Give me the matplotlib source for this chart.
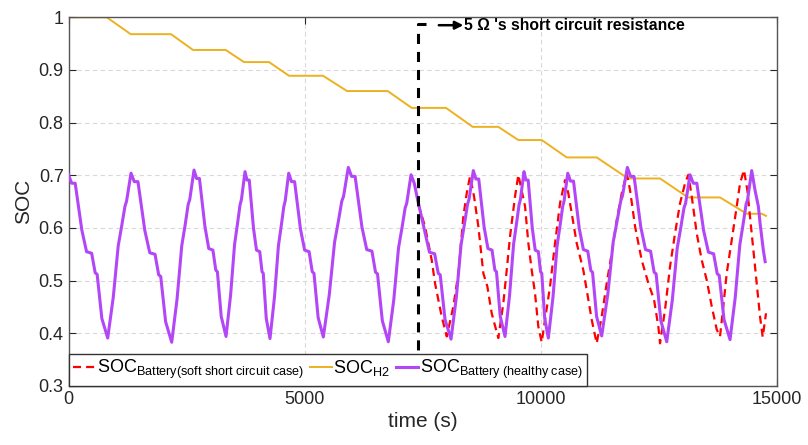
import matplotlib
matplotlib.use("Agg")
import matplotlib.pyplot as plt

plt.rcParams['font.family'] = ['Liberation Sans', 'DejaVu Sans']
plt.rcParams['mathtext.fontset'] = 'custom'
plt.rcParams['mathtext.rm'] = 'Liberation Sans'
plt.rcParams['mathtext.it'] = 'Liberation Sans:italic'
plt.rcParams['mathtext.bf'] = 'Liberation Sans:bold'

# healthy battery SOC
t_healthy = [0, 66, 141, 282, 382, 490, 564, 606, 706, 830,
             948, 1052, 1126, 1195, 1229, 1323,
             1392, 1470, 1616, 1720, 1832, 1909, 1952, 2056, 2185,
             2298, 2397, 2468, 2534, 2567, 2657,
             2711, 2772, 2888, 2969, 3057, 3118, 3152, 3233, 3335,
             3431, 3516, 3576, 3632, 3661, 3737,
             3779, 3827, 3917, 3980, 4049, 4097, 4123, 4187, 4266,
             4361, 4444, 4504, 4559, 4587, 4662,
             4721, 4787, 4911, 4999, 5094, 5160, 5197, 5285, 5395,
             5522, 5633, 5712, 5786, 5823, 5924,
             5992, 6068, 6212, 6314, 6424, 6500, 6542, 6644, 6771,
             6886, 6987, 7060, 7127, 7161, 7252,
             7320, 7396, 7540, 7642, 7752, 7828, 7870, 7972, 8099,
             8212, 8311, 8382, 8448, 8481, 8571,
             8625, 8685, 8799, 8880, 8967, 9027, 9061, 9141, 9242,
             9338, 9423, 9483, 9539, 9568, 9644,
             9685, 9732, 9819, 9881, 9948, 9994, 10020, 10082, 10159,
             10258, 10344, 10406, 10463, 10492, 10570,
             10628, 10692, 10814, 10901, 10994, 11059, 11095, 11181, 11289,
             11419, 11533, 11615, 11691, 11729, 11832,
             11899, 11974, 12116, 12216, 12324, 12399, 12441, 12541, 12666,
             12784, 12888, 12962, 13031, 13065, 13159,
             13227, 13303, 13447, 13549, 13659, 13735, 13777, 13879, 14006,
             14116, 14213, 14281, 14346, 14378, 14465,
             14535, 14606, 14642, 14711, 14750]
soc_healthy = [0.701, 0.685, 0.685, 0.596, 0.555, 0.552, 0.515, 0.512, 0.428, 0.391,
               0.469, 0.566, 0.604, 0.641, 0.651, 0.704,
               0.688, 0.688, 0.595, 0.553, 0.550, 0.511, 0.508, 0.422, 0.383,
               0.465, 0.566, 0.605, 0.645, 0.654, 0.710,
               0.694, 0.694, 0.603, 0.561, 0.558, 0.520, 0.517, 0.432, 0.394,
               0.472, 0.569, 0.607, 0.644, 0.654, 0.707,
               0.691, 0.691, 0.599, 0.558, 0.555, 0.517, 0.514, 0.428, 0.390,
               0.469, 0.566, 0.604, 0.641, 0.651, 0.704,
               0.688, 0.688, 0.598, 0.558, 0.555, 0.517, 0.514, 0.430, 0.393,
               0.474, 0.573, 0.612, 0.651, 0.660, 0.715,
               0.698, 0.698, 0.602, 0.559, 0.556, 0.516, 0.513, 0.424, 0.384,
               0.463, 0.562, 0.600, 0.638, 0.647, 0.701,
               0.685, 0.652, 0.595, 0.554, 0.551, 0.514, 0.511, 0.426, 0.389,
               0.469, 0.568, 0.607, 0.645, 0.655, 0.709,
               0.693, 0.693, 0.602, 0.561, 0.558, 0.520, 0.517, 0.432, 0.394,
               0.472, 0.569, 0.607, 0.644, 0.654, 0.707,
               0.691, 0.691, 0.600, 0.558, 0.555, 0.517, 0.514, 0.429, 0.391,
               0.469, 0.566, 0.604, 0.641, 0.651, 0.704,
               0.689, 0.689, 0.599, 0.559, 0.556, 0.519, 0.516, 0.432, 0.395,
               0.475, 0.574, 0.613, 0.651, 0.661, 0.715,
               0.698, 0.698, 0.602, 0.559, 0.556, 0.516, 0.513, 0.424, 0.384,
               0.463, 0.562, 0.600, 0.638, 0.647, 0.701,
               0.685, 0.685, 0.595, 0.554, 0.551, 0.513, 0.510, 0.426, 0.388,
               0.468, 0.568, 0.606, 0.645, 0.654, 0.709,
               0.672, 0.641, 0.609, 0.558, 0.536]

# battery SOC with soft short circuit (after fault)
t_short = [7400, 7443, 7548, 7690, 7760, 7901, 8008,
           8148, 8254, 8360, 8431, 8501,
           8586, 8677, 8783, 8868, 8960, 9100,
           9206, 9278, 9348, 9454, 9524,
           9666, 9736, 9807, 9877, 9947, 10019,
           10089, 10195, 10301, 10407, 10512,
           10582, 10654, 10760, 10900, 11006, 11077, 11183,
           11289, 11395, 11501, 11607, 11713, 11819,
           11889, 11995, 12136, 12277, 12397, 12488, 12524,
           12630, 12736, 12842, 12948, 13054, 13123,
           13195, 13301, 13407, 13513, 13619, 13725, 13794,
           13864, 13936, 14042, 14148, 14218, 14302,
           14372, 14443, 14514, 14584, 14641, 14698, 14768]
soc_short = [0.645, 0.634, 0.603, 0.539, 0.495, 0.432, 0.394,
             0.451, 0.514, 0.622, 0.666, 0.698,
             0.660, 0.603, 0.514, 0.489, 0.438, 0.391,
             0.457, 0.520, 0.584, 0.660, 0.701,
             0.641, 0.571, 0.520, 0.476, 0.413, 0.383,
             0.426, 0.489, 0.571, 0.647, 0.691,
             0.666, 0.628, 0.571, 0.520, 0.464, 0.426, 0.381,
             0.432, 0.495, 0.552, 0.615, 0.666, 0.704,
             0.672, 0.603, 0.539, 0.495, 0.464, 0.413, 0.381,
             0.445, 0.527, 0.590, 0.647, 0.685, 0.701,
             0.660, 0.590, 0.539, 0.501, 0.451, 0.407, 0.394,
             0.451, 0.514, 0.577, 0.641, 0.685, 0.710,
             0.672, 0.609, 0.546, 0.483, 0.432, 0.393, 0.438]

# hydrogen SOC
t_h2 = [0, 809, 1317, 2170, 2636, 3328, 3716, 4245, 4669, 5389, 5897, 6758,
        7267, 7993, 8558, 9100, 9524, 10019, 10548, 11183, 11846, 12524,
        13117, 13794, 14359, 14677, 14768]
soc_h2 = [1.0, 1.0, 0.968, 0.968, 0.938, 0.938, 0.915, 0.915, 0.889, 0.889,
          0.860, 0.860, 0.828, 0.828, 0.792, 0.792, 0.767, 0.767, 0.734, 0.734,
          0.694, 0.694, 0.658, 0.658, 0.627, 0.627, 0.623]

t_fault = [7400, 7400, 7560]
soc_fault = [0.3, 0.988, 0.988]

fig = plt.figure(figsize=(8.08, 4.45), dpi=100)
ax = fig.add_axes([0.0848, 0.1326, 0.8768, 0.8285])

ax.plot(t_short, soc_short, color='#ff0000', lw=1.6, dashes=(3.6, 2.3),
        label=r'SOC$_{\mathrm{Battery(soft\ short\ circuit\ case)}}$', zorder=3)
ax.plot(t_h2, soc_h2, color='#edb120', lw=1.4,
        label=r'SOC$_{\mathrm{H2}}$', zorder=2)
ax.plot(t_healthy, soc_healthy, color='#b347f7', lw=2.2,
        label=r'SOC$_{\mathrm{Battery\ (healthy\ case)}}$', zorder=4)
ax.plot(t_fault, soc_fault, color='black', lw=2.2, dashes=(3.3, 2.6), zorder=5)

ax.annotate('', xy=(8360, 0.985), xytext=(7840, 0.985),
            arrowprops=dict(arrowstyle='-|>', color='black', lw=1.8,
                            mutation_scale=12, shrinkA=0, shrinkB=0))
ax.text(8380, 0.985, "5 \u03a9 's short circuit resistance", fontsize=11.3,
        fontweight='bold', va='center', ha='left')

ax.set_xlim(0, 15000)
ax.set_ylim(0.3, 1.0)
ax.set_xticks([0, 5000, 10000, 15000])
ax.set_yticks([0.3, 0.4, 0.5, 0.6, 0.7, 0.8, 0.9, 1.0])
ax.set_yticklabels(['0.3', '0.4', '0.5', '0.6', '0.7', '0.8', '0.9', '1'])
ax.grid(True, color='#d9d9d9', linestyle=(0, (4, 3)), lw=0.8)
ax.tick_params(direction='in', top=True, right=True, labelsize=13,
               colors='#262626', length=5)
for s in ax.spines.values():
    s.set_color('#555555')
    s.set_linewidth(1.0)

ax.set_xlabel('time (s)', fontsize=15, color='#262626', labelpad=3)
ax.set_ylabel('SOC', fontsize=15, color='#262626', labelpad=4)

leg = ax.legend(loc='lower left', bbox_to_anchor=(0, 0), borderaxespad=0,
                ncol=3, fontsize=13, handlelength=1.2, handletextpad=0.1,
                columnspacing=0.35, borderpad=0.25, fancybox=False,
                framealpha=1, edgecolor='#333333')
leg.get_frame().set_linewidth(1.0)
leg.set_zorder(10)

fig.savefig('out.png', dpi=100)
